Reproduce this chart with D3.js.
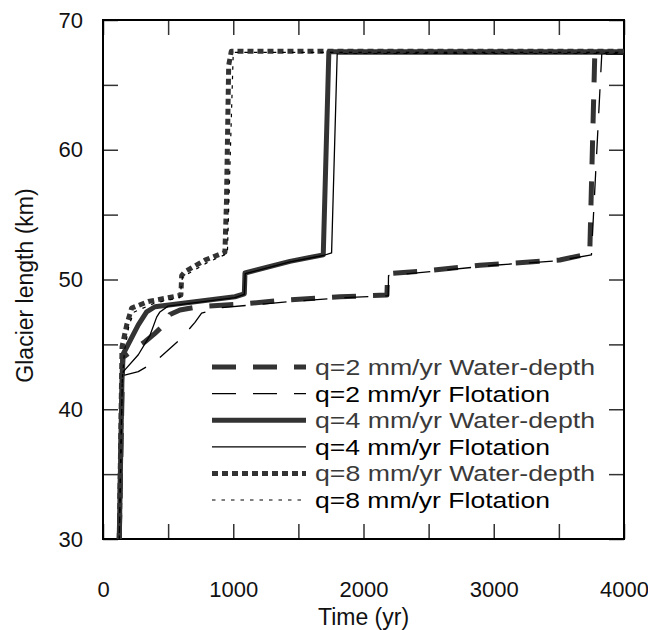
<!DOCTYPE html>
<meta charset="utf-8">
<style>
body { margin: 0; background: #fff; }
text { font-family: "Liberation Sans", Arial, sans-serif; }
.axis path { display: none; }
.axis line { stroke: #333; stroke-width: 1.5px; }
.axis text { font-size: 22px; fill: #111; }
</style>
<body>
<script src="https://d3js.org/d3.v7.min.js"></script>
<script>
// series: [time (yr), glacier length (km)]
var q2Water = [[125,30],[148,42.2],[153,44.0],[322,45.2],[399,45.85],[489,46.7],[514,47.3],[591,47.65],[731,47.9],[1051,48.1],[1384,48.4],[1819,48.67],[2180,48.8],[2185,50.45],[2509,50.7],[2893,51.1],[3507,51.5],[3737,52.0],[3776,67.5],[4000,67.5]];
var q2Flot = [[125,30],[148,42.2],[156,42.6],[271,42.9],[399,43.65],[604,45.5],[706,46.7],[757,47.4],[885,47.8],[1100,48.0],[1500,48.35],[1850,48.6],[2190,48.75],[2192,50.3],[2600,50.7],[3000,51.1],[3500,51.45],[3750,51.9],[3830,67.5],[4000,67.5]];
var q4Water = [[125,30],[145,42],[152,44.2],[271,46.5],[335,47.5],[399,47.9],[1013,48.67],[1085,48.9],[1090,50.5],[1435,51.4],[1691,51.9],[1734,67.55],[4000,67.55]];
var q4Flot = [[125,30],[148,42.2],[156,42.9],[271,44.2],[361,45.7],[412,47.1],[437,47.5],[500,47.95],[1013,48.6],[1085,48.85],[1092,50.45],[1435,51.35],[1691,51.85],[1755,52.05],[1798,67.4],[4000,67.4]];
var q8Water = [[125,30],[146,44.8],[182,46.5],[220,47.8],[348,48.3],[552,48.7],[598,48.8],[604,50.3],[629,50.6],[783,51.5],[936,52.1],[948,56],[965,66.5],[985,67.6],[4000,67.6]];
var q8Flot = [[125,30],[148,42.2],[165,44.5],[200,46.5],[240,47.5],[400,48.2],[590,48.6],[610,50.2],[800,51.3],[955,52.0],[1000,67.5],[4000,67.5]];

var seriesNames = ["q=2 mm/yr Water-depth", "q=2 mm/yr Flotation", "q=4 mm/yr Water-depth",
                   "q=4 mm/yr Flotation", "q=8 mm/yr Water-depth", "q=8 mm/yr Flotation"];
var xTicks = [0, 500, 1000, 1500, 2000, 2500, 3000, 3500, 4000];
var yTicks = [30, 35, 40, 45, 50, 55, 60, 65, 70];

var series = [
  {name: seriesNames[0], data: q2Water, w: 5, color: "#333", dash: "24,17", text: "#3a3a3a"},
  {name: seriesNames[1], data: q2Flot, w: 1.3, color: "#000", dash: "24,17", text: "#000"},
  {name: seriesNames[2], data: q4Water, w: 5, color: "#333", dash: null, text: "#3a3a3a"},
  {name: seriesNames[3], data: q4Flot, w: 1.3, color: "#000", dash: null, text: "#000"},
  {name: seriesNames[4], data: q8Water, w: 5, color: "#333", dash: "6,4", text: "#3a3a3a"},
  {name: seriesNames[5], data: q8Flot, w: 1.2, color: "#000", dash: "3.5,6", text: "#000"}
];

var width = 648, height = 630;
var mLeft = 103, mRight = 624, mTop = 20, mBottom = 539;

var svg = d3.select("body").append("svg")
    .attr("width", width)
    .attr("height", height);

var x = d3.scaleLinear().domain([0, 4000]).range([mLeft, mRight]);
var y = d3.scaleLinear().domain([30, 70]).range([mBottom, mTop]);

var fmtX = function(d) { return d % 1000 === 0 ? d : ""; };
var fmtY = function(d) { return d % 10 === 0 ? d : ""; };

svg.append("g").attr("class", "axis")
    .attr("transform", "translate(0," + mBottom + ")")
    .call(d3.axisBottom(x).tickValues(xTicks).tickFormat(fmtX).tickSize(-15).tickPadding(42));
svg.append("g").attr("class", "axis")
    .attr("transform", "translate(0," + mTop + ")")
    .call(d3.axisTop(x).tickValues(xTicks).tickFormat("").tickSize(-15));
svg.append("g").attr("class", "axis")
    .attr("transform", "translate(" + mLeft + ",0)")
    .call(d3.axisLeft(y).tickValues(yTicks).tickFormat(fmtY).tickSize(-15).tickPadding(20));
svg.append("g").attr("class", "axis")
    .attr("transform", "translate(" + mRight + ",0)")
    .call(d3.axisRight(y).tickValues(yTicks).tickFormat("").tickSize(-15));

// frame
svg.append("rect")
    .attr("x", mLeft).attr("y", mTop)
    .attr("width", mRight - mLeft).attr("height", mBottom - mTop)
    .attr("fill", "none").attr("stroke", "#000").attr("stroke-width", 2);

var line = d3.line()
    .x(function(d) { return x(d[0]); })
    .y(function(d) { return y(d[1]); });

svg.append("g").selectAll("path")
    .data(series)
    .enter().append("path")
    .attr("d", function(d) { return line(d.data); })
    .attr("fill", "none")
    .attr("stroke", function(d) { return d.color; })
    .attr("stroke-width", function(d) { return d.w; })
    .attr("stroke-dasharray", function(d) { return d.dash; })
    .attr("stroke-linejoin", "round");

// legend
var leg = svg.append("g");
var rowY = d3.scaleLinear().domain([0, 5]).range([367, 500]);
series.forEach(function(s, i) {
  var yy = rowY(i);
  leg.append("line")
      .attr("x1", 212).attr("x2", 306).attr("y1", yy).attr("y2", yy)
      .attr("stroke", s.color).attr("stroke-width", s.w)
      .attr("stroke-dasharray", s.dash);
  leg.append("text")
      .attr("x", 315).attr("y", yy + 8)
      .attr("font-size", 22)
      .attr("fill", s.text)
      .attr("textLength", s.name.indexOf("Water") > 0 ? 280 : 235)
      .attr("lengthAdjust", "spacingAndGlyphs")
      .text(s.name);
});

svg.append("text")
    .attr("x", (mLeft + mRight) / 2).attr("y", 625)
    .attr("text-anchor", "middle")
    .attr("font-size", 23)
    .attr("fill", "#111")
    .text("Time (yr)");

svg.append("text")
    .attr("transform", "translate(33," + ((mTop + mBottom) / 2 + 6) + ") rotate(-90)")
    .attr("text-anchor", "middle")
    .attr("font-size", 23)
    .attr("fill", "#111")
    .text("Glacier length (km)");
</script>
</body>
